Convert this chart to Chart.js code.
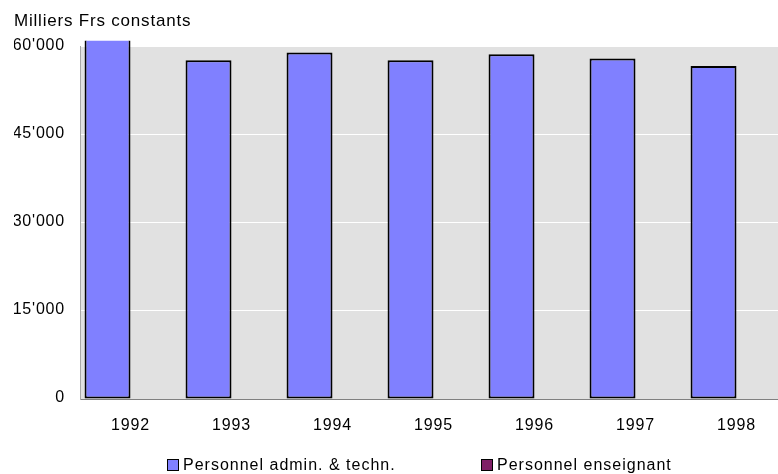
<!DOCTYPE html>
<html>
<head>
<meta charset="utf-8">
<title>Milliers Frs constants</title>
<script src="https://cdn.jsdelivr.net/npm/chart.js@4/dist/chart.umd.min.js"></script>
<style>
  html, body { margin: 0; padding: 0; background: #fff; overflow: hidden; width: 778px; height: 474px; }
  #wrap { position: absolute; left: 0; top: 0; width: 787px; height: 474px; }
  #legend { position: absolute; left: 0; top: 0; width: 778px; height: 474px; pointer-events: none;
            font-family: "Liberation Sans", Arial, sans-serif; font-size: 16px; letter-spacing: 1px; color: #000; }
  .item { position: absolute; top: 457px; height: 16px; display: flex; align-items: center; white-space: nowrap; }
  .item:nth-child(1) { left: 167px; }
  .item:nth-child(2) { left: 481px; }
  .item .box { width: 10px; height: 10px; border: 1.5px solid #000; margin-right: 4px; }
</style>
</head>
<body>
<div id="wrap"><canvas id="chart" width="787" height="474"></canvas></div>
<div id="legend"></div>
<script>
// Dépenses par catégorie de personnel (milliers de francs constants)
const years = ['1992', '1993', '1994', '1995', '1996', '1997', '1998'];
const adminTech = [62000, 57700, 59000, 57700, 58700, 58000, 56700];
const enseignant = [null, null, null, null, null, null, null];
const yTickValues = [0, 15000, 30000, 45000, 60000];
const yTickLabels = ["0", "15'000", "30'000", "45'000", "60'000"];

const FONT = '"Liberation Sans", Arial, sans-serif';

// Grey plot area behind the bars
const plotBackground = {
  id: 'plotBackground',
  beforeDraw(chart) {
    const { ctx, chartArea: a } = chart;
    ctx.save();
    ctx.fillStyle = '#e1e1e1';
    ctx.fillRect(a.left, a.top, a.right - a.left, a.bottom - a.top);
    ctx.restore();
  }
};

// Slightly spaced lettering for all canvas text
const spacedText = {
  id: 'spacedText',
  beforeLayout(chart) { chart.ctx.letterSpacing = '0.8px'; },
  beforeDraw(chart) { chart.ctx.letterSpacing = '0.8px'; }
};

const chart = new Chart(document.getElementById('chart'), {
  type: 'bar',
  data: {
    labels: years,
    datasets: [
      {
        label: 'Personnel admin. & techn.',
        data: adminTech,
        backgroundColor: '#8080ff',
        borderColor: '#000000',
        borderWidth: 2,
        borderSkipped: false,
        categoryPercentage: 0.91,
        barPercentage: 1,
        clip: { left: 0, top: 6, right: 0, bottom: 2 }
      },
      {
        label: 'Personnel enseignant',
        data: enseignant,
        backgroundColor: '#7f1f66',
        borderColor: '#000000',
        borderWidth: 2,
        borderSkipped: false,
        categoryPercentage: 0.91,
        barPercentage: 1
      }
    ]
  },
  options: {
    responsive: false,
    animation: false,
    devicePixelRatio: 1,
    layout: { padding: { left: 14, right: 0, top: 0, bottom: 40 } },
    plugins: {
      legend: { display: false },
      tooltip: { enabled: false },
      title: {
        display: true,
        text: 'Milliers Frs constants',
        align: 'start',
        color: '#000',
        font: { family: FONT, size: 17, weight: 'normal', lineHeight: 1.2 },
        padding: { top: 11, bottom: 15.3 }
      }
    },
    scales: {
      x: {
        grid: { display: false, drawTicks: false },
        border: { display: true, color: '#808080', width: 1 },
        ticks: { color: '#000', padding: 17, font: { family: FONT, size: 16 } },
        afterFit(scale) { scale.height = 35; }
      },
      y: {
        min: 0,
        max: 60000,
        afterBuildTicks(scale) { scale.ticks = yTickValues.map(v => ({ value: v })); },
        grid: { color: '#ffffff', lineWidth: 1, drawTicks: false },
        border: { display: true, color: '#a8a8a8', width: 1 },
        ticks: {
          color: '#000',
          padding: 15,
          labelOffset: -1,
          font: { family: FONT, size: 16 },
          callback: (value, index) => yTickLabels[index]
        },
        afterFit(scale) { scale.width = 66; }
      }
    }
  },
  plugins: [spacedText, plotBackground]
});

// Legend row built from the datasets
const legend = document.getElementById('legend');
chart.data.datasets.forEach(ds => {
  const item = document.createElement('div');
  item.className = 'item';
  const box = document.createElement('span');
  box.className = 'box';
  box.style.background = ds.backgroundColor;
  const text = document.createElement('span');
  text.textContent = ds.label;
  item.appendChild(box);
  item.appendChild(text);
  legend.appendChild(item);
});
</script>
</body>
</html>
